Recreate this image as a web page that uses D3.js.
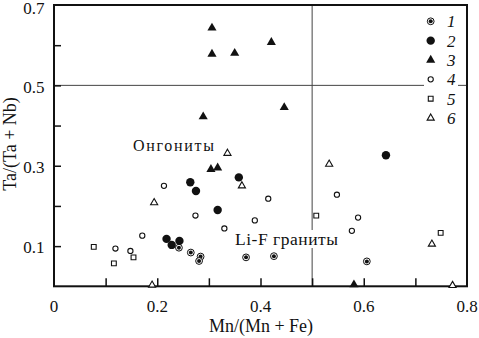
<!DOCTYPE html>
<html>
<head>
<meta charset="utf-8">
<script src="https://cdn.jsdelivr.net/npm/d3@7"></script>
<style>
  html, body { margin: 0; padding: 0; background: #fff; }
  svg { display: block; }
</style>
</head>
<body>
<svg id="chart" width="479" height="338"></svg>
<script>
// Mn/(Mn+Fe) vs Ta/(Ta+Nb), points as [x, y]
const series1 = [[0.242, 0.096], [0.265, 0.084], [0.284, 0.074], [0.281, 0.063], [0.372, 0.072], [0.426, 0.075], [0.606, 0.062]];
const series2 = [[0.358, 0.271], [0.264, 0.259], [0.275, 0.237], [0.317, 0.190], [0.218, 0.118], [0.228, 0.103], [0.243, 0.113], [0.643, 0.326]];
const series3 = [[0.306, 0.643], [0.306, 0.578], [0.350, 0.580], [0.421, 0.607], [0.289, 0.422], [0.446, 0.445], [0.304, 0.291], [0.317, 0.295], [0.581, 0.004]];
const series4 = [[0.213, 0.250], [0.171, 0.126], [0.119, 0.094], [0.148, 0.088], [0.274, 0.176], [0.330, 0.144], [0.389, 0.164], [0.415, 0.218], [0.548, 0.228], [0.589, 0.171], [0.577, 0.138]];
const series5 = [[0.077, 0.098], [0.116, 0.057], [0.154, 0.072], [0.508, 0.176], [0.749, 0.133]];
const series6 = [[0.194, 0.208], [0.190, 0.003], [0.336, 0.331], [0.364, 0.250], [0.533, 0.304], [0.732, 0.105], [0.772, 0.002]];

const legendLabels = ["1", "2", "3", "4", "5", "6"];
const xTicks = [0.1, 0.2, 0.3, 0.4, 0.5, 0.6, 0.7];
const xTickLabels = [0, 0.2, 0.4, 0.6, 0.8];
const yTicks = [0.1, 0.2, 0.3, 0.4, 0.5, 0.6];
const yTickLabels = [0.1, 0.3, 0.5, 0.7];
const xDivider = 0.5;
const yDivider = 0.5;

const FONT = "'Liberation Serif', 'Times New Roman', serif";

const svg = d3.select("#chart").attr("font-family", FONT);
const x = d3.scaleLinear().domain([0, 0.8]).range([54, 467]);
const y = d3.scaleLinear().domain([0, 0.7]).range([286.3, 5]);

// divider lines
svg.append("line")
  .attr("x1", x(0)).attr("x2", x(0.8))
  .attr("y1", y(yDivider)).attr("y2", y(yDivider))
  .attr("stroke", "#444").attr("stroke-width", 1);
svg.append("line")
  .attr("x1", x(xDivider)).attr("x2", x(xDivider))
  .attr("y1", y(0.7)).attr("y2", y(0))
  .attr("stroke", "#444").attr("stroke-width", 1);

// axes with inward ticks
const fmt = d => d === 0 ? "0" : String(d);
const xAxis = d3.axisBottom(x).tickValues(xTicks).tickSize(-8).tickFormat("");
const yAxis = d3.axisLeft(y).tickValues(yTicks).tickSize(-7).tickFormat("");
const gx = svg.append("g").attr("transform", `translate(0,${y(0)})`).call(xAxis);
const gy = svg.append("g").attr("transform", `translate(${x(0)},0)`).call(yAxis);
[gx, gy].forEach(g => {
  g.select(".domain").remove();
  g.selectAll(".tick line").attr("stroke", "#111").attr("stroke-width", 1.5);
});

// tick labels
svg.append("g").selectAll("text").data(xTickLabels).join("text")
  .attr("x", d => x(d)).attr("y", 311.5)
  .attr("text-anchor", "middle")
  .attr("font-family", FONT).attr("font-size", 17).attr("fill", "#111")
  .text(fmt);
svg.append("g").selectAll("text").data(yTickLabels).join("text")
  .attr("x", 44.5).attr("y", d => Math.max(y(d), 6.5))
  .attr("dy", "0.42em")
  .attr("text-anchor", "end")
  .attr("font-family", FONT).attr("font-size", 17).attr("fill", "#111")
  .text(fmt);

// frame
svg.append("rect")
  .attr("x", x(0)).attr("y", y(0.7))
  .attr("width", x(0.8) - x(0)).attr("height", y(0) - y(0.7))
  .attr("fill", "none").attr("stroke", "#111").attr("stroke-width", 2);

// field labels
const liF = svg.append("g");
const liFText = liF.append("text")
  .attr("x", 235).attr("y", 245)
  .attr("font-family", FONT).attr("font-size", 17.5).attr("fill", "#111")
  .attr("textLength", 103).attr("lengthAdjust", "spacing")
  .text("Li-F граниты");
const bb = liFText.node().getBBox();
liF.insert("rect", "text")
  .attr("x", bb.x - 1).attr("y", bb.y + 1)
  .attr("width", bb.width + 2).attr("height", bb.height - 2)
  .attr("fill", "#fff");

svg.append("text")
  .attr("x", 133).attr("y", 150.7)
  .attr("font-family", FONT).attr("font-size", 16).attr("fill", "#111")
  .attr("textLength", 81).attr("lengthAdjust", "spacing")
  .text("Онгониты");

// marker drawers
const tri = d3.symbol().type(d3.symbolTriangle);
const sq = d3.symbol().type(d3.symbolSquare);
const markers = [
  (g) => { // 1: ring with dot
    g.append("circle").attr("r", 3.4).attr("fill", "#fff").attr("stroke", "#111").attr("stroke-width", 1);
    g.append("circle").attr("r", 2).attr("fill", "#111");
  },
  (g) => g.append("circle").attr("r", 4.2).attr("fill", "#111"),
  (g) => g.append("path").attr("d", tri.size(36)()).attr("fill", "#111"),
  (g) => g.append("circle").attr("r", 2.6).attr("fill", "#fff").attr("stroke", "#111").attr("stroke-width", 1.1),
  (g) => g.append("path").attr("d", sq.size(23)()).attr("fill", "#fff").attr("stroke", "#111").attr("stroke-width", 1.1),
  (g) => g.append("path").attr("d", tri.size(22)()).attr("fill", "#fff").attr("stroke", "#111").attr("stroke-width", 1.1)
];
const allSeries = [series1, series2, series3, series4, series5, series6];

allSeries.forEach((s, i) => {
  svg.append("g").selectAll("g").data(s).join("g")
    .attr("transform", d => `translate(${x(d[0])},${y(d[1])})`)
    .each(function () { markers[i](d3.select(this)); });
});

// legend
const legend = svg.append("g");
legend.append("rect")
  .attr("x", 424).attr("y", 10).attr("width", 34).attr("height", 118)
  .attr("fill", "#fff");
legendLabels.forEach((lab, i) => {
  const ly = 21.3 + i * 19.35;
  const g = legend.append("g").attr("transform", `translate(430.7,${ly})`);
  markers[i](g);
  legend.append("text")
    .attr("x", 447).attr("y", ly).attr("dy", "0.35em")
    .attr("font-family", FONT).attr("font-size", 17).attr("font-style", "italic").attr("fill", "#111")
    .text(lab);
});

// axis titles
svg.append("text")
  .attr("x", 261).attr("y", 332)
  .attr("text-anchor", "middle")
  .attr("font-family", FONT).attr("font-size", 18).attr("fill", "#111")
  .text("Mn/(Mn + Fe)");
svg.append("text")
  .attr("transform", "translate(16,144) rotate(-90)")
  .attr("text-anchor", "middle")
  .attr("font-family", FONT).attr("font-size", 18).attr("fill", "#111")
  .text("Ta/(Ta + Nb)");
</script>
</body>
</html>
